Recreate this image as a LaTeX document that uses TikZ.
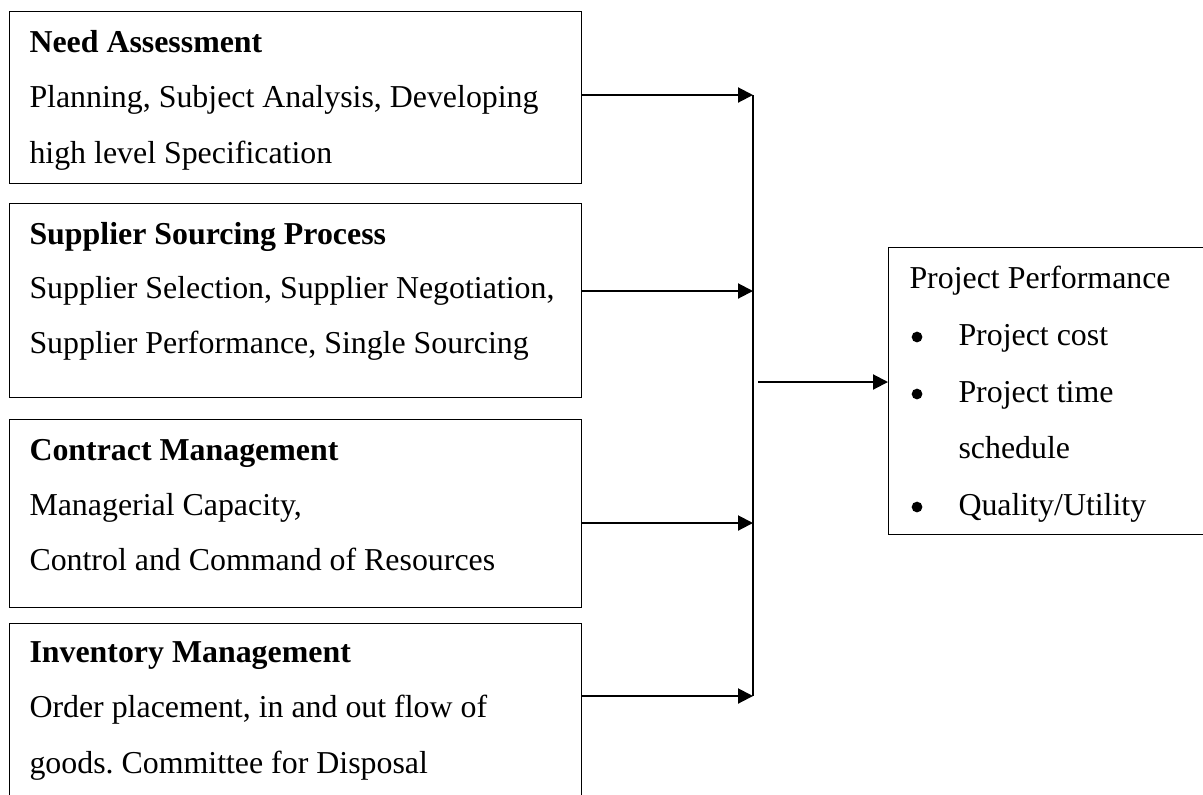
\documentclass[tikz,border=0pt]{standalone}
\usepackage{fontspec}
\setmainfont{Liberation Serif}
\usetikzlibrary{arrows.meta}
\tikzset{
  blk/.style={draw, line width=0.5pt, anchor=north west, minimum width=228.8pt, inner sep=0pt},
  txt/.style={anchor=base west, inner sep=0pt, font=\fontsize{12.75}{15}\selectfont\frenchspacing},
  hd/.style={txt, font=\fontsize{12.75}{15}\selectfont\bfseries},
  dot/.style={circle, fill, inner sep=0pt, minimum size=4.3pt},
  feed/.style={line width=0.8pt, -{Triangle[length=6pt,width=6pt]}},
}

\begin{document}
\begin{tikzpicture}[x=0.4pt, y=-0.4pt]
	\clip (0,0) rectangle (1203,794);
	
	\node[blk, minimum height=68.8pt] (need) at (9,11) {};
	\node[blk, minimum height=77.6pt] (supp) at (9,203) {};
	\node[blk, minimum height=75.2pt] (contr) at (9,419) {};
	\node[blk, minimum height=80pt] (inv) at (9,623) {};
	\node[blk, minimum width=136pt, minimum height=114.8pt] (perf) at (888,247) {};
	
	\node[hd] (needh) at (29,52) {Need Assessment};
	\node[txt] (needa) at (29,107) {Planning, Subject Analysis, Developing};
	\node[txt] (needb) at (29,163) {high level Specification};
	
	\node[hd] (supph) at (29,244) {Supplier Sourcing Process};
	\node[txt] (suppa) at (29,298) {Supplier Selection, Supplier Negotiation,};
	\node[txt] (suppb) at (29,353) {Supplier Performance, Single Sourcing};
	
	\node[hd] (contrh) at (29,460) {Contract Management};
	\node[txt] (contra) at (29,515) {Managerial Capacity,};
	\node[txt] (contrb) at (29,570) {Control and Command of Resources};
	
	\node[hd] (invh) at (29,662) {Inventory Management};
	\node[txt] (inva) at (29,717) {Order placement, in and out flow of};
	\node[txt] (invb) at (29,773) {goods. Committee for Disposal};
	
	\node[txt] (perfh) at (909,288) {Project Performance};
	\node[dot] (dota) at (917,337) {};
	\node[txt] (perfa) at (958,345) {Project cost};
	\node[dot] (dotb) at (917,394) {};
	\node[txt] (perfb) at (958,402) {Project time};
	\node[txt] (perfc) at (958,458) {schedule};
	\node[dot] (dotc) at (917,507) {};
	\node[txt] (perfd) at (958,515) {Quality/Utility};
	
	% collecting line
	\coordinate (jn1) at (753,95);
	\coordinate (jn2) at (753,291);
	\coordinate (jn3) at (753,523);
	\coordinate (jn4) at (753,696);
	\coordinate (hub) at (758,382);
	
	\draw[feed] (need.east |- jn1) -- (jn1);
	\draw[feed] (supp.east |- jn2) -- (jn2);
	\draw[feed] (contr.east |- jn3) -- (jn3);
	\draw[feed] (inv.east |- jn4) -- (jn4);
	\draw[line width=0.6pt] (jn1) -- (jn4);
	
	\draw[feed] (hub) -- (hub -| perf.west);
\end{tikzpicture}
\end{document}
